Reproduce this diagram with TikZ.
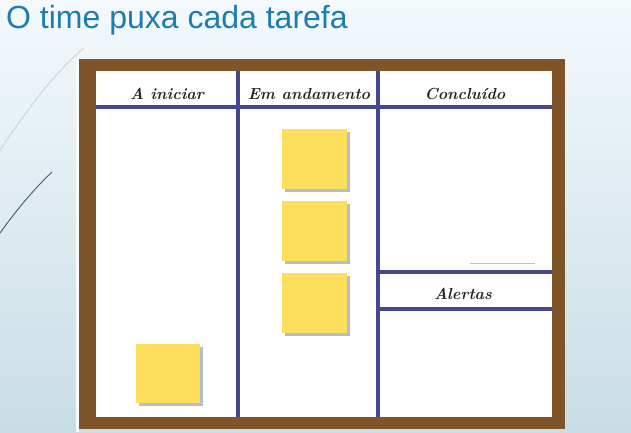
\documentclass[tikz,border=0pt]{standalone}
\usepackage{fontspec}
\newfontfamily\titlefont{Liberation Sans}
\usetikzlibrary{shadows}
\definecolor{bgtop}{HTML}{F4F9FC}
\definecolor{bgbot}{HTML}{C8DDE6}
\definecolor{titleblue}{HTML}{1B7DB3}
\definecolor{framebrown}{HTML}{7E5428}
\definecolor{boardline}{HTML}{45478F}
\definecolor{notey}{HTML}{FDDF5C}
\definecolor{noteshadow}{HTML}{B3BFC8}
\definecolor{decodark}{HTML}{4A5A6E}
\tikzset{
  note/.style={fill=notey, minimum width=65pt, minimum height=60pt, inner sep=0pt,
    anchor=north west,
    drop shadow={shadow xshift=3pt, shadow yshift=-3pt, fill=noteshadow, opacity=1}},
  lbl/.style={font=\bfseries\itshape\fontsize{16}{19}\selectfont, text=black!85, inner sep=0pt},
  divider/.style={draw=boardline, line width=4pt},
}
\begin{document}
\begin{tikzpicture}[x=1pt,y=-1pt]
\useasboundingbox (0,0) rectangle (631,432);
\shade[top color=bgtop, bottom color=bgbot] (0,0) rectangle (631,432);
% decorative curves
\draw[black!22, line width=0.6pt] (0,150) .. controls (30,106) and (55,72) .. (84,48);
\draw[decodark, line width=0.9pt] (0,233) .. controls (18,208) and (35,188) .. (52,172);
% title
\node[anchor=base west, font=\titlefont\fontsize{32}{36}\selectfont, text=titleblue, inner sep=0pt] (title) at (6,28) {O time puxa cada tarefa};
% board
\fill[white!90!bgbot] (76,59) rectangle (79,432);
\fill[framebrown] (79,59) rectangle (565,429);
\fill[white] (96,71) rectangle (552,417);
\draw[black!25, line width=0.8pt] (470,263) -- (535,263);
\draw[divider] (96,107) -- (552,107);
\draw[divider] (238,71) -- (238,417);
\draw[divider] (378,71) -- (378,417);
\draw[divider] (378,272) -- (552,272);
\draw[divider] (378,309) -- (552,309);
% labels
\node[lbl] (l1) at (167,94) {A iniciar};
\node[lbl] (l2) at (309,94) {Em andamento};
\node[lbl] (l3) at (465,94) {Concluído};
\node[lbl] (l4) at (463,294) {Alertas};
% notes
\node[note] (n1) at (282,129) {};
\node[note] (n2) at (282,201) {};
\node[note] (n3) at (282,273) {};
\node[note, minimum width=64pt, minimum height=59pt] (n4) at (136,344) {};
\end{tikzpicture}
\end{document}
